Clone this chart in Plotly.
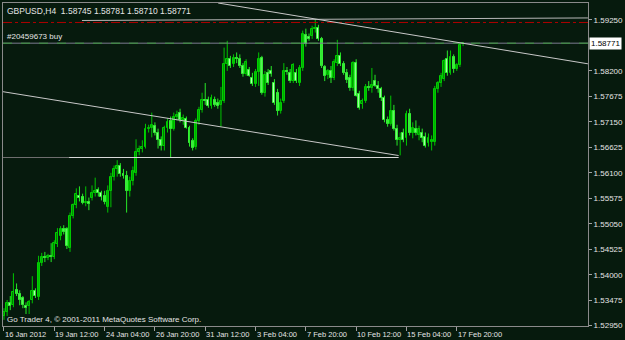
import plotly.graph_objects as go

# GBPUSD H4 bars (bar 0 = 16 Jan 2012 20:00)
opens = [
    1.5315, 1.5323, 1.5341, 1.5337, 1.5368, 1.5360, 1.5352, 1.5335, 1.5335, 1.5348,
    1.5366, 1.5354, 1.5424, 1.5436, 1.5434, 1.5439, 1.5436, 1.5463, 1.5479, 1.5494,
    1.5494, 1.5455, 1.5522, 1.5543, 1.5563, 1.5561, 1.5547, 1.5549, 1.5559, 1.5569,
    1.5575, 1.5569, 1.5563, 1.5539, 1.5573, 1.5602, 1.5618, 1.5623, 1.5608, 1.5604,
    1.5573, 1.5594, 1.5610, 1.5652, 1.5660, 1.5664, 1.5701, 1.5703, 1.5707, 1.5691,
    1.5677, 1.5666, 1.5703, 1.5716, 1.5701, 1.5726, 1.5734, 1.5718, 1.5720, 1.5703,
    1.5675, 1.5664, 1.5716, 1.5740, 1.5761, 1.5761, 1.5748, 1.5761, 1.5754, 1.5750,
    1.5758, 1.5834, 1.5844, 1.5834, 1.5846, 1.5844, 1.5830, 1.5814, 1.5822, 1.5806,
    1.5793, 1.5818, 1.5846, 1.5775, 1.5816, 1.5820, 1.5795, 1.5775, 1.5738, 1.5758,
    1.5820, 1.5816, 1.5799, 1.5816, 1.5795, 1.5826, 1.5894, 1.5890, 1.5892, 1.5907,
    1.5909, 1.5886, 1.5828, 1.5812, 1.5820, 1.5806, 1.5836, 1.5851, 1.5834, 1.5816,
    1.5806, 1.5785, 1.5836, 1.5773, 1.5752, 1.5758, 1.5787, 1.5785, 1.5799, 1.5789,
    1.5783, 1.5765, 1.5718, 1.5711, 1.5738, 1.5701, 1.5677, 1.5693, 1.5681, 1.5732,
    1.5693, 1.5701, 1.5687, 1.5691, 1.5683, 1.5671, 1.5673, 1.5673, 1.5783, 1.5795,
    1.5803, 1.5844, 1.5816, 1.5848, 1.5824, 1.5832, 1.58745,
]
highs = [
    1.5331, 1.5348, 1.5356, 1.5403, 1.5382, 1.5368, 1.5356, 1.5343, 1.5348, 1.5397,
    1.5372, 1.5439, 1.5445, 1.5447, 1.5443, 1.5465, 1.5471, 1.5496, 1.5500, 1.5502,
    1.5498, 1.5528, 1.5547, 1.5578, 1.5582, 1.5567, 1.5582, 1.5559, 1.5584, 1.5600,
    1.5580, 1.5573, 1.5573, 1.5584, 1.5610, 1.5625, 1.5636, 1.5630, 1.5618, 1.5614,
    1.5602, 1.5623, 1.5679, 1.5666, 1.5677, 1.5711, 1.5709, 1.5734, 1.5714, 1.5701,
    1.5685, 1.5707, 1.5722, 1.5726, 1.5734, 1.5738, 1.5742, 1.5730, 1.5726, 1.5707,
    1.5681, 1.5722, 1.5746, 1.5775, 1.5795, 1.5767, 1.5771, 1.5767, 1.5763, 1.5787,
    1.5868, 1.5882, 1.5851, 1.5854, 1.5858, 1.5854, 1.5836, 1.5844, 1.5828, 1.5816,
    1.5824, 1.5858, 1.5851, 1.5820, 1.5824, 1.5830, 1.5803, 1.5783, 1.5763, 1.5836,
    1.5828, 1.5824, 1.5836, 1.5824, 1.5832, 1.5903, 1.5907, 1.5897, 1.5913, 1.5927,
    1.5915, 1.5890, 1.5832, 1.5824, 1.5830, 1.5844, 1.5884, 1.5858, 1.5840, 1.5824,
    1.5812, 1.5840, 1.5844, 1.5779, 1.5763, 1.5793, 1.5799, 1.5826, 1.5812, 1.5799,
    1.5787, 1.5769, 1.5726, 1.5769, 1.5750, 1.5709, 1.5693, 1.5701, 1.5738, 1.5742,
    1.5714, 1.5718, 1.5707, 1.5701, 1.5693, 1.5691, 1.5687, 1.5789, 1.5799, 1.5816,
    1.5844, 1.5862, 1.5862, 1.5854, 1.5836, 1.5876, 1.58781,
]
lows = [
    1.5307, 1.5315, 1.5327, 1.5333, 1.5356, 1.5337, 1.5331, 1.5319, 1.5319, 1.5341,
    1.5352, 1.5348, 1.5418, 1.5426, 1.5430, 1.5426, 1.5432, 1.5457, 1.5471, 1.5483,
    1.5453, 1.5447, 1.5516, 1.5537, 1.5551, 1.5545, 1.5541, 1.5533, 1.5553, 1.5561,
    1.5561, 1.5553, 1.5545, 1.5528, 1.5539, 1.5594, 1.5602, 1.5602, 1.5598, 1.5528,
    1.5561, 1.5584, 1.5604, 1.5646, 1.5652, 1.5660, 1.5693, 1.5683, 1.5687, 1.5660,
    1.5656, 1.5656, 1.5693, 1.5642, 1.5697, 1.5718, 1.5714, 1.5709, 1.5701, 1.5664,
    1.5656, 1.5658, 1.5709, 1.5734, 1.5750, 1.5744, 1.5742, 1.5746, 1.5742, 1.5705,
    1.5754, 1.5820, 1.5826, 1.5828, 1.5836, 1.5826, 1.5808, 1.5810, 1.5808, 1.5789,
    1.5787, 1.5789, 1.5771, 1.5767, 1.5791, 1.5808, 1.5750, 1.5728, 1.5732, 1.5754,
    1.5812, 1.5795, 1.5795, 1.5795, 1.5789, 1.5820, 1.5870, 1.5882, 1.5886, 1.5899,
    1.5882, 1.5826, 1.5799, 1.5803, 1.5795, 1.5801, 1.5830, 1.5830, 1.5812, 1.5795,
    1.5779, 1.5779, 1.5767, 1.5740, 1.5742, 1.5754, 1.5779, 1.5775, 1.5787, 1.5775,
    1.5758, 1.5714, 1.5705, 1.5707, 1.5697, 1.5666, 1.5646, 1.5673, 1.5666, 1.5687,
    1.5681, 1.5687, 1.5677, 1.5673, 1.5662, 1.5664, 1.5656, 1.5666, 1.5775, 1.5787,
    1.5799, 1.5810, 1.5812, 1.5816, 1.5820, 1.5828, 1.58710,
]
closes = [
    1.5323, 1.5341, 1.5335, 1.5364, 1.5360, 1.5348, 1.5337, 1.5331, 1.5343, 1.5366,
    1.5356, 1.5424, 1.5436, 1.5434, 1.5439, 1.5436, 1.5465, 1.5486, 1.5494, 1.5488,
    1.5459, 1.5522, 1.5543, 1.5567, 1.5559, 1.5547, 1.5549, 1.5545, 1.5569, 1.5573,
    1.5569, 1.5561, 1.5549, 1.5573, 1.5602, 1.5618, 1.5623, 1.5608, 1.5604, 1.5573,
    1.5594, 1.5614, 1.5652, 1.5660, 1.5664, 1.5701, 1.5703, 1.5709, 1.5691, 1.5677,
    1.5666, 1.5703, 1.5714, 1.5701, 1.5726, 1.5730, 1.5718, 1.5722, 1.5703, 1.5671,
    1.5662, 1.5716, 1.5740, 1.5761, 1.5758, 1.5748, 1.5765, 1.5750, 1.5748, 1.5758,
    1.5834, 1.5844, 1.5830, 1.5846, 1.5844, 1.5830, 1.5814, 1.5838, 1.5810, 1.5793,
    1.5818, 1.5844, 1.5775, 1.5812, 1.5795, 1.5814, 1.5754, 1.5738, 1.5754, 1.5820,
    1.5818, 1.5799, 1.5832, 1.5799, 1.5826, 1.5897, 1.5876, 1.5886, 1.5907, 1.5909,
    1.5886, 1.5830, 1.5810, 1.5820, 1.5806, 1.5838, 1.5851, 1.5834, 1.5816, 1.5801,
    1.5785, 1.5836, 1.5769, 1.5744, 1.5758, 1.5787, 1.5785, 1.5791, 1.5789, 1.5783,
    1.5765, 1.5718, 1.5711, 1.5738, 1.5701, 1.5677, 1.5681, 1.5677, 1.5732, 1.5693,
    1.5703, 1.5693, 1.5701, 1.5681, 1.5666, 1.5681, 1.5677, 1.5783, 1.5795, 1.5810,
    1.5840, 1.5816, 1.5848, 1.5824, 1.5832, 1.5874, 1.58771,
]
bars = list(range(len(opens)))

tick_bars = [0, 16, 32, 48, 64, 80, 96, 112, 128, 144]
tick_labels = ["16 Jan 2012", "19 Jan 12:00", "24 Jan 04:00", "26 Jan 20:00",
               "31 Jan 12:00", "3 Feb 04:00", "7 Feb 20:00", "10 Feb 12:00",
               "15 Feb 04:00", "17 Feb 20:00"]
price_ticks = [1.52950, 1.53475, 1.54000, 1.54525, 1.55050, 1.55575, 1.56100,
               1.56625, 1.57150, 1.57675, 1.58200, 1.59250]

bid_price = 1.58771
order_price = 1.58771
tp_price = 1.59198
order_label = "#20459673 buy"
title_text = "GBPUSD,H4&nbsp;&nbsp;1.58745 1.58781 1.58710 1.58771"
footer_text = "Go Trader 4, \u00a9 2001-2011 MetaQuotes Software Corp."

# trendlines: (bar_start, price_start, bar_end, price_end)
upper_trend = (68.1, 1.59599, 185.7, 1.58346)
lower_trend = (-0.3, 1.57771, 125.5, 1.56456)
support_dark = (-0.3, 1.56415, 20.7, 1.56415)
support_light = (20.7, 1.56415, 125.5, 1.56415)
resistance = (24.8, 1.59239, 185.7, 1.59291)

x_range = [-0.314, 185.73]
y_range = [1.52943, 1.59599]

BG = "#061a0d"
FONT = "Liberation Sans, Arial, sans-serif"
TXT = "#e4e4e4"
FS = 8

fig = go.Figure()

# candles drawn with the library's bar + line primitives
for up in (True, False):
    idx = [i for i in bars if (closes[i] >= opens[i]) == up]
    wx, wy = [], []
    for i in idx:
        wx += [i, i, None]
        wy += [lows[i], highs[i], None]
    fig.add_trace(go.Scatter(
        x=wx, y=wy, mode="lines", hoverinfo="skip", showlegend=False,
        line=dict(color="#00c400" if up else "#28e828", width=1)))
    base = [min(opens[i], closes[i]) for i in idx]
    height = [max(abs(closes[i] - opens[i]), 0.00006) for i in idx]
    fig.add_trace(go.Bar(
        x=idx, y=height, base=base, width=0.62, hoverinfo="skip", showlegend=False,
        marker=dict(color="#007400" if up else "#bfffbf",
                    line=dict(color="#00d000" if up else "#36f036", width=1))))

shapes = []
def seg(t, color, dash="solid", width=1):
    shapes.append(dict(type="line", xref="x", yref="y", x0=t[0], y0=t[1], x1=t[2], y1=t[3],
                       line=dict(color=color, width=width, dash=dash), layer="above"))

seg((x_range[0], tp_price, x_range[1], tp_price), "#b00000", "dashdot")
seg((x_range[0], bid_price, x_range[1], bid_price), "#7c7c90")
seg((x_range[0], order_price, x_range[1], order_price), "#3c9a3c", "dash")
seg(resistance, "#b8b8b8")
seg(upper_trend, "#c8c8c8")
seg(lower_trend, "#c8c8c8")
seg(support_dark, "#6e6e6e")
seg(support_light, "#d8d8d8")

annotations = []
for b, lab in zip(tick_bars, tick_labels):
    annotations.append(dict(x=b, xref="x", y=0, yref="paper", text=lab, showarrow=False,
                            xanchor="left", yanchor="top", yshift=-2, xshift=-1,
                            font=dict(family=FONT, size=7.5, color=TXT)))
annotations.append(dict(x=0, xref="paper", y=1, yref="paper", text=title_text, showarrow=False,
                        xanchor="left", yanchor="top", xshift=2, yshift=-1,
                        font=dict(family=FONT, size=8.5, color=TXT)))
annotations.append(dict(x=0, xref="paper", y=order_price, yref="y", text=order_label, showarrow=False,
                        xanchor="left", yanchor="bottom", xshift=2, yshift=0,
                        font=dict(family=FONT, size=FS, color=TXT)))
annotations.append(dict(x=0, xref="paper", y=0, yref="paper", text=footer_text, showarrow=False,
                        xanchor="left", yanchor="bottom", xshift=2, yshift=0,
                        font=dict(family=FONT, size=FS, color=TXT)))
annotations.append(dict(x=1, xref="paper", y=bid_price, yref="y", text=f"{bid_price:.5f}", showarrow=False,
                        xanchor="left", yanchor="middle", xshift=1, bgcolor="#ffffff", borderpad=1,
                        font=dict(family=FONT, size=FS, color="#000000")))

fig.update_layout(
    width=625, height=340,
    margin=dict(l=2, r=30, t=2, b=14),
    paper_bgcolor=BG, plot_bgcolor=BG,
    shapes=shapes, annotations=annotations,
    showlegend=False, barmode="overlay", bargap=0,
    xaxis=dict(range=x_range, showgrid=False, zeroline=False,
               tickmode="array", tickvals=tick_bars, showticklabels=False,
               ticks="outside", ticklen=4, tickcolor="#a0a0a0",
               showline=True, linecolor="#8a8a8a", linewidth=1, mirror=True),
    yaxis=dict(range=y_range, side="right", showgrid=False, zeroline=False,
               tickmode="array", tickvals=price_ticks, ticktext=[f"{p:.5f}" for p in price_ticks],
               ticks="outside", ticklen=3, tickcolor="#a0a0a0",
               tickfont=dict(family=FONT, size=FS, color=TXT),
               showline=True, linecolor="#8a8a8a", linewidth=1, mirror=True),
)

fig.write_html("out.html", config={"displayModeBar": False})
